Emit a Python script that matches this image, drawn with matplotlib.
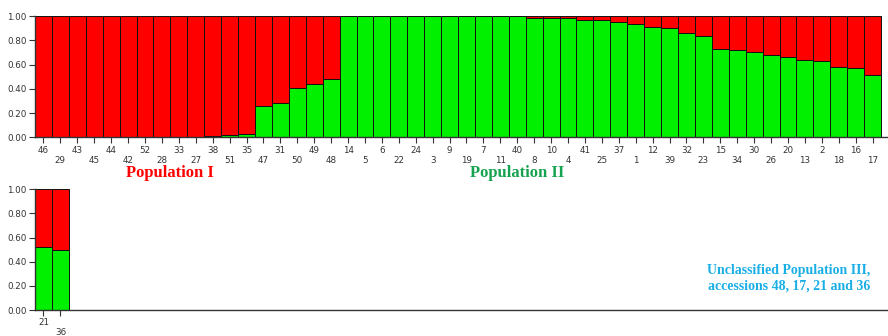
import matplotlib
matplotlib.use("Agg")
import matplotlib.pyplot as plt
import numpy as np

# 上图：50 个样本（按图中顺序），绿色为 Population II 的成分比例
accessions = ['46', '29', '43', '45', '44', '42', '52', '28', '33', '27',
              '38', '51', '35', '47', '31', '50', '49', '48', '14', '5',
              '6', '22', '24', '3', '9', '19', '7', '11', '40', '8',
              '10', '4', '41', '25', '37', '1', '12', '39', '32', '23',
              '15', '34', '30', '26', '20', '13', '2', '18', '16', '17']
green_frac = [0.0, 0.0, 0.0, 0.0, 0.0, 0.0, 0.003, 0.005, 0.005, 0.005,
              0.01, 0.02, 0.025, 0.26, 0.285, 0.405, 0.44, 0.48, 1.0, 1.0,
              1.0, 1.0, 1.0, 1.0, 1.0, 1.0, 1.0, 1.0, 1.0, 0.985,
              0.983, 0.983, 0.97, 0.97, 0.947, 0.936, 0.906, 0.898, 0.856, 0.832,
              0.73, 0.716, 0.70, 0.675, 0.666, 0.636, 0.63, 0.579, 0.573, 0.515]

# 下图：未归类样本
unclassified = ['21', '36']
unclassified_green = [0.519, 0.50]

yticks = [0.0, 0.2, 0.4, 0.6, 0.8, 1.0]

RED = '#ff0000'
GREEN = '#00f000'
W, H = 888, 336


def px_axes(fig, left, top, right, bottom):
    return fig.add_axes([left / W, (H - bottom) / H, (right - left) / W, (bottom - top) / H])


def style_axes(ax, names, xmax, spacing):
    ax.set_ylim(0, 1)
    ax.set_xlim(-0.5, xmax)
    ax.set_yticks(yticks)
    ax.set_yticklabels([f'{v:.2f}' for v in yticks])
    ax.set_xticks(range(len(names)))
    ax.set_xticklabels([n if i % 2 == 0 else '\n' + n for i, n in enumerate(names)],
                       linespacing=spacing)
    for s in ['top', 'right']:
        ax.spines[s].set_visible(False)
    for s in ['left', 'bottom']:
        ax.spines[s].set_color('#333333')
        ax.spines[s].set_linewidth(1.0)
    ax.tick_params(axis='both', length=4, width=0.8, color='#333333',
                   labelsize=6.3, labelcolor='#333333', pad=2)


fig = plt.figure(figsize=(W / 100, H / 100), dpi=100)

ax1 = px_axes(fig, 35, 16, 887, 137.3)
x = np.arange(len(accessions))
g = np.array(green_frac)
ax1.bar(x, g, width=1.0, color=GREEN, edgecolor='#111111', linewidth=0.7)
ax1.bar(x, 1 - g, bottom=g, width=1.0, color=RED, edgecolor='#111111', linewidth=0.7)
style_axes(ax1, accessions, 49.85, 1.25)

ax2 = px_axes(fig, 35, 189.3, 888, 310)
x2 = np.arange(len(unclassified))
g2 = np.array(unclassified_green)
ax2.bar(x2, g2, width=1.0, color=GREEN, edgecolor='#111111', linewidth=0.7)
ax2.bar(x2, 1 - g2, bottom=g2, width=1.0, color=RED, edgecolor='#111111', linewidth=0.7)
style_axes(ax2, unclassified, 49.91, 1.05)

serif = ['Liberation Serif', 'DejaVu Serif']
fig.text(170 / W, 1 - 173 / H, 'Population I', color=RED, fontsize=12,
         fontweight='bold', family=serif, ha='center', va='center')
fig.text(517 / W, 1 - 173 / H, 'Population II', color='#16a34f', fontsize=12,
         fontweight='bold', family=serif, ha='center', va='center')
fig.text(870 / W, 1 - 278.5 / H, 'Unclassified Population III,\naccessions 48, 17, 21 and 36',
         color='#19aee6', fontsize=10, fontweight='bold', family=serif,
         ha='right', va='center', multialignment='right', linespacing=1.25)

fig.savefig('out.png', dpi=100)
